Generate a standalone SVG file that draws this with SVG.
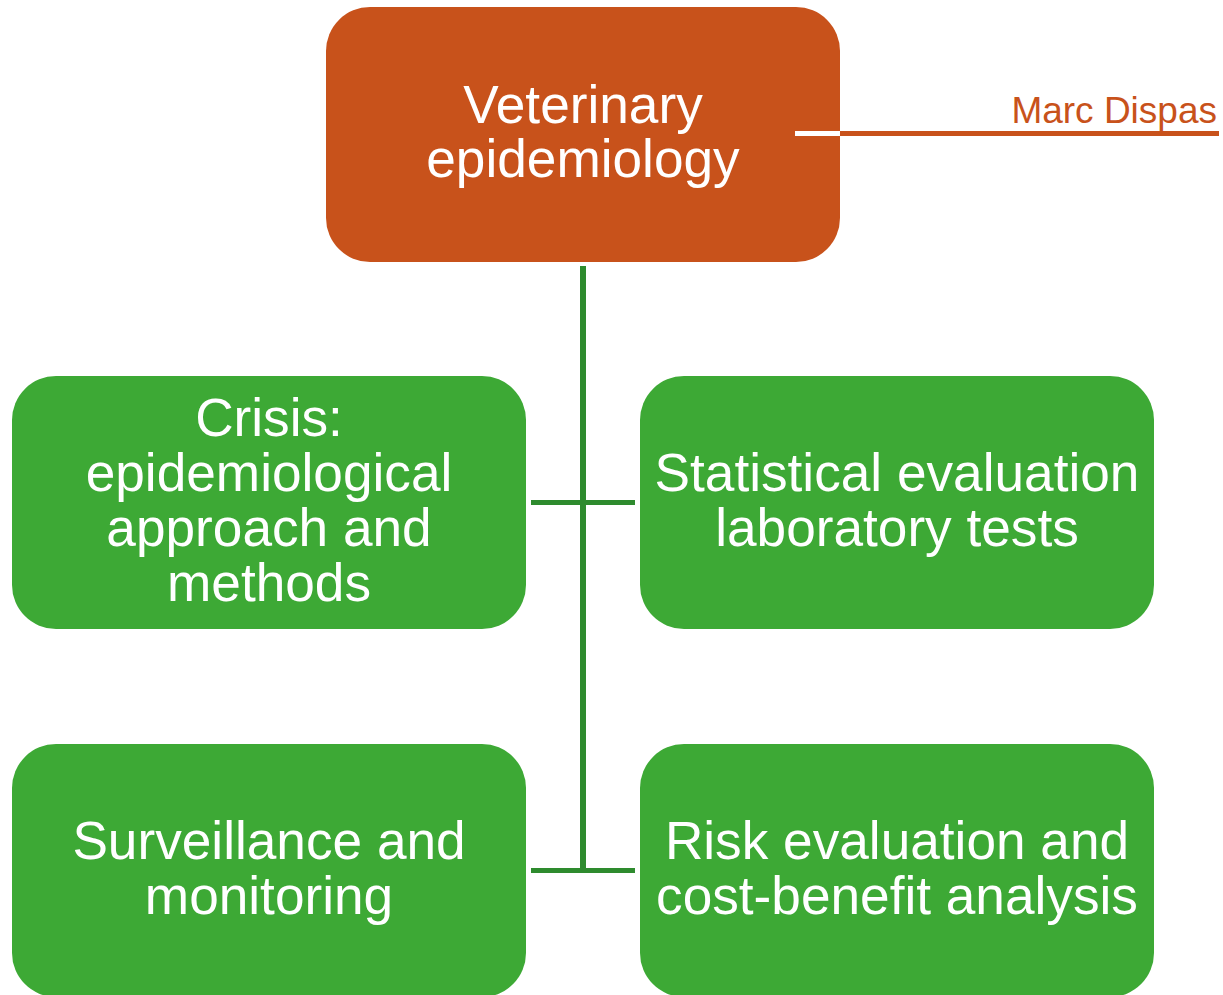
<svg xmlns="http://www.w3.org/2000/svg" width="1223" height="995" viewBox="0 0 1223 995">
<style>
.box-o{fill:#C8521B}
.box-g{fill:#3DA935}
.lbl{font-family:"Liberation Sans",Arial,sans-serif;font-size:53.2px;fill:#FFFFFF;text-anchor:middle}
.conn{stroke:#2E8B2E;fill:none;stroke-linecap:butt}
.author{font-family:"Liberation Sans",Arial,sans-serif;font-size:37px;fill:#C8521B;text-anchor:end}
</style>
<rect width="1223" height="995" fill="#FFFFFF"/>
<g id="connectors">
<line class="conn" x1="583" y1="266" x2="583" y2="873" stroke-width="6"/>
<line class="conn" x1="531" y1="502.5" x2="635" y2="502.5" stroke-width="5"/>
<line class="conn" x1="531" y1="870.5" x2="635" y2="870.5" stroke-width="5"/>
</g>
<g id="node-veterinary">
<rect class="box-o" x="326" y="7" width="514" height="255" rx="44" ry="44"/>
<text class="lbl" x="583" y="123">Veterinary</text>
<text class="lbl" x="583" y="177">epidemiology</text>
</g>
<g id="author">
<line x1="795" y1="133.5" x2="840" y2="133.5" stroke="#FFFFFF" stroke-width="5"/>
<line x1="840" y1="133.5" x2="1219" y2="133.5" stroke="#C8521B" stroke-width="5"/>
<text class="author" x="1217" y="123">Marc Dispas</text>
</g>
<g id="node-crisis">
<rect class="box-g" x="12" y="376" width="514" height="253" rx="44" ry="44"/>
<text class="lbl" x="269" y="436">Crisis:</text>
<text class="lbl" x="269" y="491">epidemiological</text>
<text class="lbl" x="269" y="546">approach and</text>
<text class="lbl" x="269" y="601">methods</text>
</g>
<g id="node-statistical">
<rect class="box-g" x="640" y="376" width="514" height="253" rx="44" ry="44"/>
<text class="lbl" x="897" y="491">Statistical evaluation</text>
<text class="lbl" x="897" y="546">laboratory tests</text>
</g>
<g id="node-surveillance">
<rect class="box-g" x="12" y="744" width="514" height="253" rx="44" ry="44"/>
<text class="lbl" x="269" y="859">Surveillance and</text>
<text class="lbl" x="269" y="914">monitoring</text>
</g>
<g id="node-risk">
<rect class="box-g" x="640" y="744" width="514" height="253" rx="44" ry="44"/>
<text class="lbl" x="897" y="859">Risk evaluation and</text>
<text class="lbl" x="897" y="914">cost-benefit analysis</text>
</g>
</svg>
